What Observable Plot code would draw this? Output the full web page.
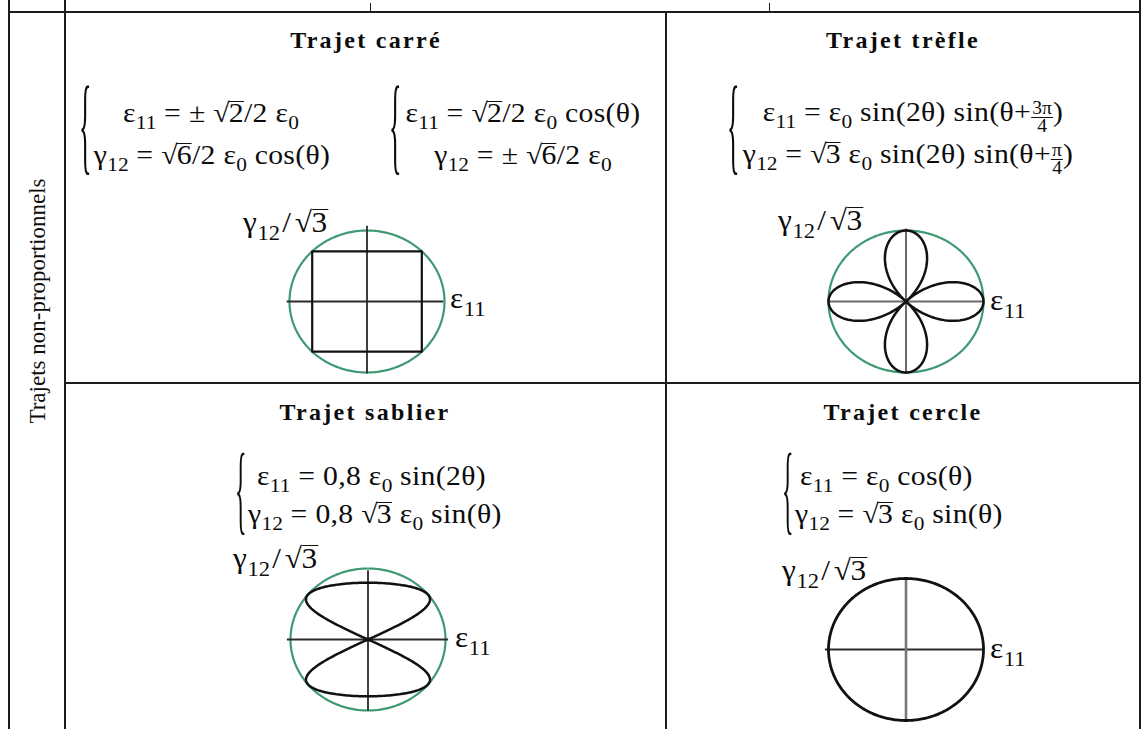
<!DOCTYPE html>
<html>
<head>
<meta charset="utf-8">
<script src="https://cdn.jsdelivr.net/npm/d3@7"></script>
<script src="https://cdn.jsdelivr.net/npm/@observablehq/plot@0.6"></script>
<style>
  body { margin: 0; background: #fff; }
  #page { position: relative; width: 1142px; height: 729px; overflow: hidden; background: #fff;
          font-family: "Liberation Serif", "Times New Roman", "DejaVu Serif", serif; color: #0c0c0c; }
  .rule { position: absolute; background: #1c1c1c; }
  .title { position: absolute; font-weight: bold; font-size: 24px; letter-spacing: 2.3px; line-height: 1;
           white-space: nowrap; transform: translateX(-50%); }
  .eq { position: absolute; font-size: 27px; letter-spacing: 0.3px; line-height: 1; white-space: nowrap;
        transform-origin: 0 0; transform: scaleX(1.1); }
  .eq.center { transform-origin: 50% 0; transform: translateX(-50%) scaleX(1.1); }
  .brace { position: absolute; line-height: 0.87; transform-origin: 0 0; transform: scale(0.24, 1); }
  .s { font-size: 0.72em; position: relative; top: 0.38em; line-height: 0; letter-spacing: 0; }
  .rc { display: inline-block; border-top: 1.4px solid #111; line-height: 0.8; padding-top: 1px; margin-left: -1px; }
  .frac { display: inline-flex; flex-direction: column; align-items: center; vertical-align: 0.39em;
          font-size: 0.66em; line-height: 0.95; letter-spacing: 0; }
  .frac .n { border-bottom: 1.3px solid #111; padding: 0 1px; }
  .lab { position: absolute; font-size: 29px; letter-spacing: 0.6px; line-height: 1; white-space: nowrap;
         transform-origin: 0 0; transform: scaleX(1.08); }
  .lab .sl { margin: 0 3px 0 2px; }
  .side { position: absolute; font-size: 23px; white-space: nowrap; line-height: 1;
          transform: translate(-50%, -50%) rotate(-90deg); }
  .diag { position: absolute; overflow: visible; }
</style>
</head>
<body>
<div id="page"></div>
<script>
// ---- Content -------------------------------------------------------------
const rowHeading = "Trajets non-proportionnels";
const pathTitles = ["Trajet carré", "Trajet trèfle", "Trajet sablier", "Trajet cercle"];

// Loading laws (ε0 = 1, vertical axis is γ12/√3)
const squareHalfSide = Math.SQRT2 / 2;            // ε11 = ±√2/2 ε0, γ12/√3 = ±√2/2 ε0
const trefoilPhases = [3 * Math.PI / 4, Math.PI / 4];
const hourglassAmplitude = 0.8;
const circleAmplitude = 1;
const thetaDegrees = d3.range(0, 361);

// ---- Small markup helpers for the equations --------------------------------
const sub = t => `<span class="s">${t}</span>`;
const rad = t => `<span class="rt">√</span><span class="rc">${t}</span>`;
const frac = (n, d) => `<span class="frac"><span class="n">${n}</span><span class="d">${d}</span></span>`;
const eps11 = `ε${sub("11")}`, gam12 = `γ${sub("12")}`, eps0 = `ε${sub("0")}`;

const equations = [
  // Trajet carré : two systems
  [`${eps11} = ± ${rad("2")}/2 ${eps0}`, `${gam12} = ${rad("6")}/2 ${eps0} cos(θ)`],
  [`${eps11} = ${rad("2")}/2 ${eps0} cos(θ)`, `${gam12} = ± ${rad("6")}/2 ${eps0}`],
  // Trajet trèfle
  [`${eps11} = ${eps0} sin(2θ) sin(θ+${frac("3π", "4")})`, `${gam12} = ${rad("3")} ${eps0} sin(2θ) sin(θ+${frac("π", "4")})`],
  // Trajet sablier
  [`${eps11} = 0,8 ${eps0} sin(2θ)`, `${gam12} = 0,8 ${rad("3")} ${eps0} sin(θ)`],
  // Trajet cercle
  [`${eps11} = ${eps0} cos(θ)`, `${gam12} = ${rad("3")} ${eps0} sin(θ)`]
];
const axisLabelV = `γ${sub("12")}<span class="sl">/</span>${rad("3")}`;
const axisLabelH = `ε${sub("11")}`;

// ---- Curves in the (ε11, γ12/√3) plane ------------------------------------
const toRad = d => d * Math.PI / 180;
const unitCircle = thetaDegrees.map(d => ({x: Math.cos(toRad(d)), y: Math.sin(toRad(d))}));
const s = squareHalfSide;
const squarePath = [[-s, -s], [s, -s], [s, s], [-s, s], [-s, -s]].map(([x, y]) => ({x, y}));
const trefoilPath = thetaDegrees.map(d => {
  const t = toRad(d);
  return {x: Math.sin(2 * t) * Math.sin(t + trefoilPhases[0]), y: Math.sin(2 * t) * Math.sin(t + trefoilPhases[1])};
});
const hourglassPath = thetaDegrees.map(d => {
  const t = toRad(d);
  return {x: hourglassAmplitude * Math.sin(2 * t), y: hourglassAmplitude * Math.sin(t)};
});
const circlePath = thetaDegrees.map(d => ({x: circleAmplitude * Math.cos(toRad(d)), y: circleAmplitude * Math.sin(toRad(d))}));

// ---- Layout ---------------------------------------------------------------
const page = document.getElementById("page");
function add(cls, html, style) {
  const el = document.createElement("div");
  el.className = cls;
  el.innerHTML = html;
  Object.assign(el.style, style);
  page.appendChild(el);
  return el;
}
const px = v => v + "px";

// table rules: [x, y, w, h]
[[8, 11, 1133, 2], [8, 0, 2, 729], [63.5, 0, 2, 729], [665, 12, 2, 717], [1138.5, 0, 2, 729],
 [64, 382, 1076, 2], [369.5, 3, 1.5, 9], [768.5, 3, 1.5, 9]]
  .forEach(([x, y, w, h]) => add("rule", "", {left: px(x), top: px(y), width: px(w), height: px(h)}));

add("side", rowHeading, {left: px(37), top: px(301)});

// titles: [centre x, baseline]
const titlePos = [[366, 48], [903, 48], [365, 420], [903, 420]];
pathTitles.forEach((t, i) => add("title", t, {left: px(titlePos[i][0]), top: px(titlePos[i][1] - 20)}));

// equation systems: brace [x, glyph top, size], line anchors [x, baseline], centred lines or left-aligned
const systems = [
  {brace: [79, 88, 108], lines: [[211, 123], [212, 165]], center: true},
  {brace: [389, 88, 108], lines: [[523, 123], [523, 165]], center: true},
  {brace: [727, 88, 108], lines: [[913, 122], [908, 164]], center: true},
  {brace: [235, 454, 100], lines: [[257, 486], [248, 524]], center: false},
  {brace: [782, 454, 100], lines: [[800, 486], [795, 524]], center: false}
];
systems.forEach((sys, i) => {
  const [bx, by, bs] = sys.brace;
  add("brace", "{", {left: px(bx), top: px(by - 0.09 * bs), fontSize: px(bs)});
  sys.lines.forEach(([x, b], j) =>
    add("eq" + (sys.center ? " center" : ""), equations[i][j], {left: px(x), top: px(b - 23)}));
});

// diagrams: centre, axis spans (data units), path, axis colours
const green = "#3f9a74";
const R = {x: 77.5, y: 71}, M = 24;
const diagrams = [
  {c: [366.5, 301], ax: [-1.03, 0.99], ay: [-1.02, 1.06], path: squarePath, ring: true, hc: "#2a2a2a", vc: "#2a2a2a", vw: 1.8, w: 2.2,
   labV: [243, 232], labH: [450, 308]},
  {c: [905.5, 300.5], ax: [-1, 1], ay: [-1.02, 1.02], path: trefoilPath, ring: true, hc: "#6a6a6a", vc: "#6a6a6a", vw: 2, w: 2.5,
   labV: [778, 230], labH: [990, 310]},
  {c: [367.5, 639], ax: [-1.04, 1.04], ay: [-1.01, 0.97], path: hourglassPath, ring: true, hc: "#2a2a2a", vc: "#2a2a2a", vw: 1.8, w: 2.5,
   labV: [233, 568], labH: [455, 647]},
  {c: [905, 649], ax: [-1.04, 1.0], ay: [-1.0, 1.0], path: circlePath, ring: false, hc: "#2a2a2a", vc: "#777", vw: 2.6, w: 2.8,
   labV: [782, 580], labH: [990, 658]}
];

diagrams.forEach(d => {
  const marks = [];
  if (d.ring) marks.push(Plot.line(unitCircle, {x: "x", y: "y", stroke: green, strokeWidth: 2.2}));
  marks.push(
    Plot.ruleY([{y: 0, x1: d.ax[0], x2: d.ax[1]}], {y: "y", x1: "x1", x2: "x2", stroke: d.hc, strokeWidth: 1.8}),
    Plot.ruleX([{x: 0, y1: d.ay[0], y2: d.ay[1]}], {x: "x", y1: "y1", y2: "y2", stroke: d.vc, strokeWidth: d.vw}),
    Plot.line(d.path, {x: "x", y: "y", stroke: "#111", strokeWidth: d.w, strokeLinejoin: "round"})
  );
  const svg = Plot.plot({
    width: 2 * R.x + 2 * M, height: 2 * R.y + 2 * M,
    marginLeft: M, marginRight: M, marginTop: M, marginBottom: M,
    x: {domain: [-1, 1], axis: null},
    y: {domain: [-1, 1], axis: null},
    style: {background: "transparent", overflow: "visible"},
    marks
  });
  svg.classList.add("diag");
  svg.style.left = px(d.c[0] - R.x - M);
  svg.style.top = px(d.c[1] - R.y - M);
  page.appendChild(svg);
  add("lab", axisLabelV, {left: px(d.labV[0]), top: px(d.labV[1] - 24)});
  add("lab", axisLabelH, {left: px(d.labH[0]), top: px(d.labH[1] - 24)});
});
</script>
</body>
</html>
